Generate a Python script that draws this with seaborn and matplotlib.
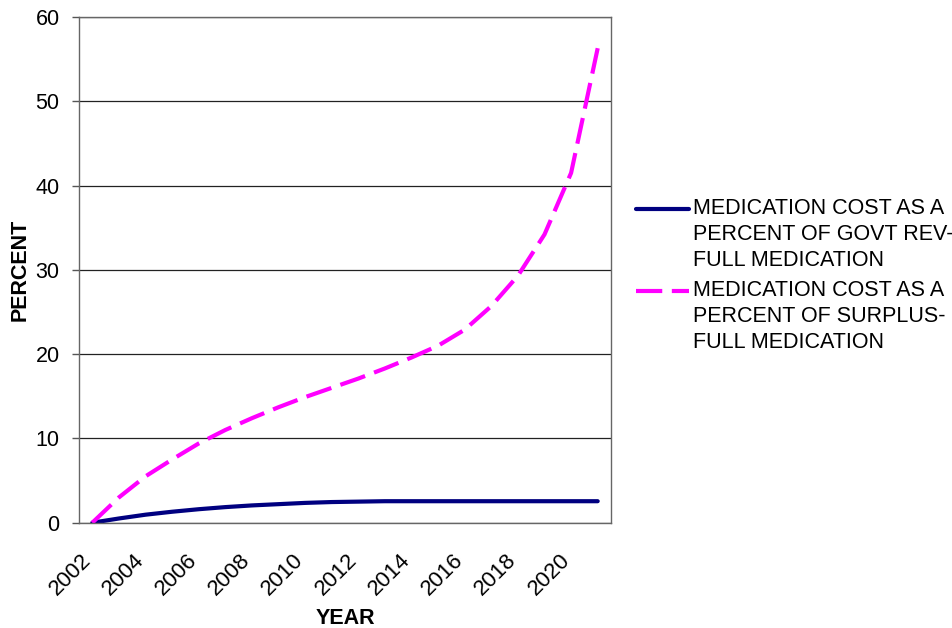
import numpy as np
import pandas as pd
import matplotlib
matplotlib.use("Agg")
import matplotlib.pyplot as plt
import matplotlib.transforms as mtransforms
from matplotlib.legend_handler import HandlerLine2D
import seaborn as sns

years = list(range(2002, 2022))
govt_rev = [0, 0.5, 0.95, 1.3, 1.6, 1.85, 2.05, 2.2, 2.35, 2.45, 2.5, 2.55,
            2.55, 2.55, 2.55, 2.55, 2.55, 2.55, 2.55, 2.55]
surplus = [0, 3.0, 5.5, 7.5, 9.4, 11.0, 12.4, 13.7, 14.9, 16.0, 17.1, 18.3,
           19.6, 21.0, 22.9, 25.7, 29.3, 34.2, 41.5, 56.3]
label_govt = "MEDICATION COST AS A\nPERCENT OF GOVT REV-\nFULL MEDICATION"
label_surplus = "MEDICATION COST AS A\nPERCENT OF SURPLUS-\nFULL MEDICATION"
tick_labels = [str(y) for y in years[::2]]
y_ticks = [0, 10, 20, 30, 40, 50, 60]

sns.set_style("white")
plt.rcParams['font.family'] = ['Liberation Sans', 'DejaVu Sans']
for k in ["text.color", "axes.labelcolor", "xtick.color", "ytick.color"]:
    plt.rcParams[k] = "black"
FS = 15.5
LSP = 1.3

df = pd.DataFrame({"pos": np.arange(len(years)), "govt": govt_rev, "surplus": surplus})

fig = plt.figure(figsize=(9.52, 6.28), dpi=100)
ax = fig.add_axes([79 / 952, 1 - 522.7 / 628, (611 - 79) / 952, (522.7 - 17) / 628])

sns.lineplot(data=df, x="pos", y="govt", ax=ax, color="#000080", lw=3.0,
             label=label_govt)
sns.lineplot(data=df, x="pos", y="surplus", ax=ax, color="#FF00FF", lw=3.0,
             label=label_surplus, dashes=False)
ax.lines[1].set_dashes([6.3, 2.3])
ax.lines[1].set_dash_capstyle("butt")

ax.set_xlim(-0.5, len(years) - 0.5)
ax.set_ylim(0, 60)
ax.set_yticks(y_ticks)
ax.set_yticklabels([str(v) for v in y_ticks], fontsize=FS)
ax.set_xticks(np.arange(0, len(years), 2))
ax.set_xticklabels(tick_labels, fontsize=16, rotation=45, ha="right", va="top",
                   rotation_mode="anchor")
ax.set_xticks(np.arange(-0.5, len(years), 1), minor=True)
ax.tick_params(axis="x", which="major", length=0, pad=18)
ax.tick_params(axis="x", which="minor", length=5, width=1, color="#555555", direction="out")
ax.tick_params(axis="y", length=5, width=1, color="#555555", direction="out", pad=9, left=True)
shift = mtransforms.ScaledTranslation(-12 / 100, -2 / 100, fig.dpi_scale_trans)
for lab in ax.get_xticklabels():
    lab.set_transform(lab.get_transform() + shift)

ax.grid(axis="y", color="#222222", lw=0.9)
ax.grid(axis="x", visible=False)
for s in ax.spines.values():
    s.set_visible(True)
    s.set_color("#666666")
    s.set_linewidth(1)

ax.set_xlabel("YEAR", fontsize=FS, fontweight="bold")
ax.set_ylabel("PERCENT", fontsize=FS, fontweight="bold")
ax.xaxis.set_label_coords(0.5, -(619 - 522.7) / (522.7 - 17), transform=ax.transAxes)
ax.xaxis.label.set_va("center")
ax.yaxis.set_label_coords(-(79 - 20) / (611 - 79), 0.5)
ax.yaxis.label.set_va("center")


class TopHandler(HandlerLine2D):
    def create_artists(self, legend, orig_handle, xdescent, ydescent, width,
                       height, fontsize, trans):
        arts = super().create_artists(legend, orig_handle, xdescent, ydescent,
                                      width, height, fontsize, trans)
        for a in arts:
            a.set_ydata(np.asarray(a.get_ydata(), dtype=float) + fontsize * 0.92 * LSP)
        return arts


leg = ax.legend(loc="upper left", bbox_to_anchor=(636 / 952, 1 - 198 / 628),
                bbox_transform=fig.transFigure, frameon=False, fontsize=FS,
                handlelength=2.45, handletextpad=0.2, borderpad=0,
                borderaxespad=0, labelspacing=0.45,
                handler_map={matplotlib.lines.Line2D: TopHandler()})
for t in leg.get_texts():
    t.set_linespacing(LSP)

fig.savefig("out.png", dpi=100)
